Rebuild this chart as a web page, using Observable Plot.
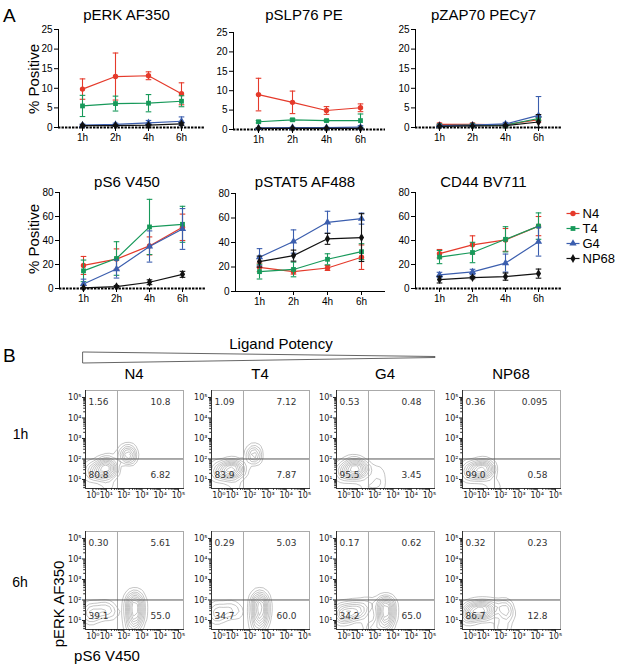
<!DOCTYPE html>
<html><head><meta charset="utf-8">
<script src="https://cdn.jsdelivr.net/npm/d3@7"></script>
<script src="https://cdn.jsdelivr.net/npm/@observablehq/plot@0.6"></script>
<style>
body{margin:0;background:#fff;}
#fig{position:relative;width:617px;height:669px;overflow:hidden;background:#fff;font-family:"Liberation Sans",Arial,sans-serif;}
#fig > svg{position:absolute;}
</style></head><body><div id="fig"></div>
<script>
// ---------- DATA ----------
const times = ["1h","2h","4h","6h"];
const ligands = ["N4","T4","G4","NP68"];

// mean and SD, rows = N4, T4, G4, NP68 ; columns = 1h, 2h, 4h, 6h
const pERK_mean = [[9.8,13.0,13.2,8.6],[5.5,6.1,6.2,6.7],[0.6,0.8,1.2,1.6],[0.5,0.5,0.6,0.9]];
const pERK_sd   = [[2.6,6.0,1.0,2.8],[2.7,1.9,2.2,1.4],[0.3,0.3,0.6,1.1],[0.2,0.2,0.2,0.3]];
const pSLP76_mean = [[9.0,7.0,4.9,5.6],[2.0,2.5,2.3,2.3],[0.4,0.5,0.5,0.6],[0.3,0.3,0.3,0.3]];
const pSLP76_sd   = [[4.2,2.9,1.0,1.0],[0.3,0.3,0.2,1.7],[0.1,0.1,0.1,0.4],[0.1,0.1,0.1,0.1]];
const pZAP70_mean = [[0.8,0.8,0.7,2.0],[0.5,0.6,0.6,2.3],[0.5,0.6,0.9,3.1],[0.3,0.4,0.5,1.4]];
const pZAP70_sd   = [[0.3,0.3,0.2,0.6],[0.2,0.2,0.2,0.5],[0.2,0.2,0.4,4.8],[0.1,0.1,0.2,1.9]];
const pS6_mean = [[19.2,24.5,35.5,51.0],[14.7,25.0,51.3,53.5],[3.8,16.2,35.0,49.6],[0.5,1.6,5.2,11.8]];
const pS6_sd   = [[7.5,8.5,7.5,11.0],[9.0,14.0,23.0,15.0],[4.0,7.5,13.0,17.0],[0.4,0.9,2.0,2.5]];
const pSTAT5_mean = [[19.7,16.2,19.2,28.0],[16.2,18.0,26.3,32.5],[28.0,40.8,56.5,59.5],[24.4,29.3,43.0,44.0]];
const pSTAT5_sd   = [[3.5,2.0,2.0,10.0],[6.0,6.0,4.5,6.5],[7.0,9.5,9.0,4.5],[4.5,4.5,4.5,19.5]];
const CD44_mean = [[29.0,36.4,40.5,52.0],[26.2,30.0,41.0,52.0],[11.3,13.8,21.2,39.0],[7.4,9.1,9.9,12.4]];
const CD44_sd   = [[3.5,7.5,9.5,8.0],[5.5,8.5,10.5,11.0],[2.2,2.2,7.5,12.0],[2.8,1.0,3.0,3.8]];
const ticks25 = [0,5,10,15,20,25];
const ticks80 = [0,20,40,60,80];

// Flow cytometry: quadrant percentages [UL, UR, LL, LR]
const quad_1h = [["1.56","10.8","80.8","6.82"],["1.09","7.12","83.9","7.87"],["0.53","0.48","95.5","3.45"],["0.36","0.095","99.0","0.58"]];
const quad_6h = [["0.30","5.61","39.1","55.0"],["0.29","5.03","34.7","60.0"],["0.17","0.62","34.2","65.0"],["0.32","0.23","86.7","12.8"]];
// event populations: [log10 pS6, log10 pERK, weight]
const pop_1h_N4 = [[0.3,1.4,1],[0.7,1.5,1.5],[1.0,1.6,2],[1.3,1.5,1.5],[0.9,1.2,1],[1.0,1.9,1],[2.2,2.35,1.6],[2.2,2.1,1.6],[1.7,2.3,0.3],[2.6,2.2,0.3],[-0.35,1.2,0.8],[-0.35,1.6,0.8],[1.1,0.65,0.6]];
const pop_1h_T4 = [[0.3,1.4,1],[0.7,1.5,1.5],[1.0,1.6,2],[1.3,1.5,1.5],[0.9,1.2,1],[2.2,2.35,1.3],[2.2,2.1,1.3],[1.8,1.4,0.4],[-0.35,1.2,0.8],[-0.35,1.6,0.8],[1.2,0.65,0.6]];
const pop_1h_G4 = [[0.3,1.4,1.2],[0.7,1.5,1.6],[1.0,1.6,2],[1.3,1.5,1.5],[0.9,1.2,1],[0.7,1.9,0.8],[2.1,1.5,0.6],[2.2,1.1,0.5],[-0.35,1.2,0.9],[-0.35,1.6,0.9],[1.6,0.65,0.9],[2.2,0.65,0.7]];
const pop_1h_NP68 = [[0.3,1.4,1.2],[0.7,1.5,1.6],[1.0,1.6,2],[1.3,1.5,1.5],[0.9,1.2,1],[-0.35,1.2,0.9],[-0.35,1.6,0.9],[1.6,0.65,0.9]];
const pop_6h_N4 = [[0.5,1.4,0.7],[0.9,1.6,0.8],[1.3,1.4,0.6],[2.6,2.2,1],[2.6,1.9,1.5],[2.6,1.6,1.7],[2.6,1.3,1.5],[2.6,1.0,1.3],[-0.35,1.2,0.9],[-0.35,1.6,0.7],[2.5,0.62,1]];
const pop_6h_T4 = [[0.5,1.4,0.6],[0.9,1.6,0.7],[1.3,1.4,0.5],[2.55,2.2,1.1],[2.55,1.9,1.6],[2.55,1.6,1.8],[2.55,1.3,1.6],[2.55,1.0,1.3],[-0.35,1.2,0.9],[-0.35,1.6,0.7],[2.45,0.62,1]];
const pop_6h_G4 = [[0.4,1.3,0.9],[0.8,1.6,1],[1.2,1.4,0.9],[1.6,1.8,0.5],[2.6,1.9,1.2],[2.6,1.6,1.4],[2.6,1.3,1.3],[2.6,1.0,1.1],[-0.35,1.2,0.9],[-0.35,1.6,0.7],[1.8,0.62,0.8],[2.5,0.62,0.9]];
const pop_6h_NP68 = [[0.4,1.4,1.4],[0.8,1.6,1.6],[1.2,1.4,1.4],[1.5,1.7,0.8],[2.2,1.7,0.8],[2.3,1.3,0.9],[-0.35,1.2,0.9],[-0.35,1.6,0.7],[2.1,0.62,0.9]];
const flowTicks = [1,10,100,1000,10000,100000];

// ---------- STYLE / LAYOUT ----------
const colors = ["#e53a2b","#17995a","#3b5eae","#111111"];
const symbols = ["circle","square","triangle","diamond"];
const sans = "'Liberation Sans', Arial, sans-serif";
const fig = document.getElementById("fig");
const cap = {draw(ctx, size){ const w = Math.sqrt(size/Math.PI); ctx.moveTo(-w,0); ctx.lineTo(w,0); }};

const charts = [
  {title:"pERK AF350", mean:pERK_mean, sd:pERK_sd, yMax:25, ticks:ticks25, ax:58, ae:205, yt:29, yz:127, dashed:true, tb:20},
  {title:"pSLP76 PE", mean:pSLP76_mean, sd:pSLP76_sd, yMax:25, ticks:ticks25, ax:233, ae:385, yt:32, yz:129, dashed:true, tb:20},
  {title:"pZAP70 PECy7", mean:pZAP70_mean, sd:pZAP70_sd, yMax:25, ticks:ticks25, ax:415, ae:562, yt:29, yz:127, dashed:true, tb:20},
  {title:"pS6 V450", mean:pS6_mean, sd:pS6_sd, yMax:80, ticks:ticks80, ax:59, ae:205, yt:192, yz:288, dashed:true, tb:187},
  {title:"pSTAT5 AF488", mean:pSTAT5_mean, sd:pSTAT5_sd, yMax:80, ticks:ticks80, ax:235, ae:385, yt:193, yz:291, dashed:false, tb:187},
  {title:"CD44 BV711", mean:CD44_mean, sd:CD44_sd, yMax:80, ticks:ticks80, ax:415, ae:562, yt:192, yz:288, dashed:true, tb:187}
];

function place(svg, left, top){ svg.style.left = left+"px"; svg.style.top = top+"px"; fig.appendChild(svg); }

function lineChart(c){
  const mL=30, mR=4, mT=6, mB=22;
  const rows = [];
  ligands.forEach((lig,i)=>times.forEach((t,j)=>{
    const m = c.mean[i][j], s = c.sd[i][j];
    rows.push({lig, i, t, m, lo:Math.max(0,m-s), hi:m+s});
  }));
  const marks = [
    Plot.ruleY([0], c.dashed ? {stroke:"#000", strokeWidth:2, strokeDasharray:"2.4,1.1"} : {stroke:"#000", strokeWidth:1}),
    Plot.frame({anchor:"left", stroke:"#000"})
  ];
  ligands.forEach((lig,i)=>{
    const d = rows.filter(r=>r.i===i), col = colors[i];
    marks.push(Plot.ruleX(d,{x:"t", y1:"lo", y2:"hi", stroke:col, strokeWidth:1.1}));
    marks.push(Plot.dot(d,{x:"t", y:"lo", symbol:cap, r:2.8, stroke:col, fill:"none", strokeWidth:1.1}));
    marks.push(Plot.dot(d,{x:"t", y:"hi", symbol:cap, r:2.8, stroke:col, fill:"none", strokeWidth:1.1}));
    marks.push(Plot.lineY(d,{x:"t", y:"m", stroke:col, strokeWidth:1.2}));
    marks.push(Plot.dot(d,{x:"t", y:"m", symbol:symbols[i], fill:col, r:2.7}));
  });
  marks.push(Plot.axisX({tickSize:4, tickPadding:2, fontSize:10}));
  marks.push(Plot.axisY({ticks:c.ticks, tickSize:4, tickPadding:2, fontSize:10}));
  const svg = Plot.plot({
    width:c.ae-c.ax+mL+mR, height:c.yz-c.yt+mT+mB,
    marginLeft:mL, marginRight:mR, marginTop:mT, marginBottom:mB,
    x:{type:"point", domain:times, padding:0.7, label:null},
    y:{domain:[0,c.yMax], label:null},
    style:{fontFamily:sans, fontSize:"10px", background:"transparent", overflow:"visible", color:"#000"},
    marks
  });
  place(svg, c.ax-mL, c.yt-mT);
}
charts.forEach(lineChart);

// legend
place(Plot.plot({
  width:57, height:63, margin:0,
  x:{domain:[0,57], axis:null}, y:{type:"point", domain:ligands, padding:0.5, axis:null},
  color:{domain:ligands, range:colors}, symbol:{domain:ligands, range:symbols},
  style:{fontFamily:sans, background:"transparent", overflow:"visible"},
  marks:[
    Plot.link(ligands,{x1:6, x2:19, y1:d=>d, y2:d=>d, stroke:d=>d, strokeWidth:1.2}),
    Plot.dot(ligands,{x:12.5, y:d=>d, fill:d=>d, symbol:d=>d, r:2.7}),
    Plot.text(ligands,{x:22, y:d=>d, text:d=>d, textAnchor:"start", fontSize:13, fill:"#000"})
  ]
}), 560, 204);

// wedge
const wedge = [{t:0, lo:0, hi:1},{t:1, lo:0.5, hi:0.59}];
place(Plot.plot({
  width:354, height:13, margin:1,
  x:{domain:[0,1], axis:null}, y:{domain:[0,1], axis:null},
  style:{background:"transparent", overflow:"visible"},
  marks:[Plot.areaY(wedge,{x:"t", y1:"lo", y2:"hi", fill:"#fff", stroke:"#555", strokeWidth:0.9, curve:"linear"})]
}), 82, 351);

// flow plots
const sup = ["⁰","¹","²","³","⁴","⁵"];
const minorX = [], minorY = [];
for (let d=0; d<5; d++) for (let m=2; m<10; m++) { minorX.push(m*10**d); minorY.push(m*10**d); }
const boxLefts = [85,211,336,462], boxTops = [390,531];
const pops = [[pop_1h_N4,pop_1h_T4,pop_1h_G4,pop_1h_NP68],[pop_6h_N4,pop_6h_T4,pop_6h_G4,pop_6h_NP68]];
const quads = [quad_1h, quad_6h];
function flowPlot(pop, q, bl, bt){
  const mL=26, mR=6, mT=6, mB=16, box=98;
  const pts = pop.map(([xe,ye,w])=>({x:10**xe, y:10**ye, w}));
  const tf = d => "10"+sup[Math.round(Math.log10(d))];
  const qt = (s, fa, dx, dy, ta) => Plot.text([s],{text:d=>d, frameAnchor:fa, dx, dy, textAnchor:ta, fontSize:9, fontFamily:"'DejaVu Sans', sans-serif", fill:"#333"});
  const svg = Plot.plot({
    width:box+mL+mR, height:box+mT+mB, marginLeft:mL, marginRight:mR, marginTop:mT, marginBottom:mB,
    x:{type:"symlog", constant:1, domain:[-0.27,1.9e5], label:null},
    y:{type:"log", domain:[3.63,2.19e5], label:null},
    style:{fontFamily:"'DejaVu Sans', sans-serif", background:"transparent", overflow:"visible", color:"#222"},
    marks:[
      Plot.density(pts,{x:"x", y:"y", weight:"w", bandwidth:3.2, thresholds:10, stroke:"#8a8a8a", strokeWidth:0.5, clip:true}),
      Plot.ruleX([44],{stroke:"#aaa"}),
      Plot.ruleY([100],{stroke:"#555"}),
      Plot.frame({stroke:"#aaa"}),
      Plot.frame({anchor:"left", stroke:"#333"}),
      Plot.frame({anchor:"bottom", stroke:"#333"}),
      Plot.axisX({ticks:minorX, tickSize:1.8, tickFormat:()=>""}),
      Plot.axisY({ticks:minorY.filter(v=>v>3.63), tickSize:1.8, tickFormat:()=>""}),
      Plot.axisX({ticks:flowTicks, tickFormat:tf, tickSize:3, tickPadding:1, fontSize:8}),
      Plot.axisY({ticks:flowTicks.slice(1), tickFormat:tf, tickSize:3, tickPadding:1, fontSize:8}),
      qt(q[0],"top-left",3,8,"start"),
      qt(q[1],"top-right",-13,8,"end"),
      qt(q[2],"bottom-left",3,-11,"start"),
      qt(q[3],"bottom-right",-13,-11,"end")
    ]
  });
  place(svg, bl-mL, bt-mT);
}
for (let r=0; r<2; r++) for (let c=0; c<4; c++) flowPlot(pops[r][c], quads[r][c], boxLefts[c], boxTops[r]);

// text labels
const over = d3.select(fig).append("svg").attr("width",617).attr("height",669)
  .style("position","absolute").style("left","0px").style("top","0px").style("overflow","visible")
  .attr("font-family", sans).attr("fill","#000");
const labels = [
  {t:"A", x:3, y:22, s:19, a:"start"},
  {t:"B", x:3, y:362, s:19, a:"start"},
  {t:"% Positive", x:38.5, y:79, s:15, r:true},
  {t:"% Positive", x:39, y:239, s:15, r:true},
  {t:"Ligand Potency", x:281, y:349, s:15},
  {t:"1h", x:20.5, y:439, s:14},
  {t:"6h", x:20, y:587, s:14},
  {t:"pERK AF350", x:64, y:604, s:15, r:true},
  {t:"pS6 V450", x:107, y:661, s:15}
];
charts.forEach(c=>labels.push({t:c.title, x:(c.ax+c.ae)/2-5, y:c.tb, s:15}));
ligands.forEach((l,i)=>labels.push({t:l, x:boxLefts[i]+49, y:379, s:15}));
labels.forEach(L=>{
  const t = over.append("text").text(L.t).attr("font-size",L.s).attr("text-anchor",L.a||"middle");
  if (L.r) t.attr("transform",`translate(${L.x},${L.y}) rotate(-90)`);
  else t.attr("x",L.x).attr("y",L.y);
});
</script></body></html>
